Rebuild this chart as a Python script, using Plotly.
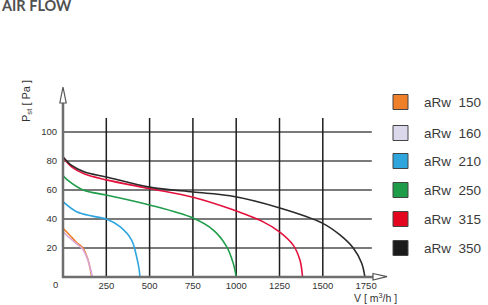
import plotly.graph_objects as go

# ---------------- data ----------------
series_names = ["aRw  150", "aRw  160", "aRw  210", "aRw  250", "aRw  315", "aRw  350"]
series_colors = ["#F07F2A", "#D9A8DA", "#2FA5DE", "#1F9C4A", "#E3103C", "#2A2A2A"]
legend_fill = ["#F07F2A", "#DCD8EC", "#2FA5DE", "#1F9C4A", "#E3061E", "#1A1A1A"]

v150 = [0, 38, 77, 115, 144, 158, 166]
p150 = [33.5, 29, 24, 20, 12, 5, 0]
v160 = [0, 38, 77, 115, 144, 160, 169]
p160 = [31, 27, 23, 19, 11.5, 5, 0]
v210 = [0, 79, 170, 250, 329, 396, 425, 440, 444]
p210 = [52, 45, 42, 40, 34.7, 25.5, 14, 5, 0]
v250 = [0, 25, 117, 250, 500, 750, 868, 945, 983, 1000]
p250 = [70, 67, 60, 56.5, 49.7, 40.7, 32.4, 21, 9.4, 0]
v315 = [0, 50, 125, 250, 500, 750, 965, 1156, 1252, 1329, 1368, 1383]
p315 = [82.5, 76, 71, 67, 61, 55, 47, 38, 31, 22, 11.7, 0]
v350 = [0, 50, 125, 250, 500, 750, 965, 1252, 1500, 1599, 1676, 1724, 1743]
p350 = [83, 77, 72.5, 69, 62, 58.6, 56, 47.6, 37, 29, 20, 9.6, 0]

x_ticks = [250, 500, 750, 1000, 1250, 1500, 1750]
y_ticks = [20, 40, 60, 80, 100]
x_grid = [250, 500, 750, 1000, 1250, 1500]
y_grid = [20, 40, 60, 80, 100]

curves_v = [v150, v160, v210, v250, v315, v350]
curves_p = [p150, p160, p210, p250, p315, p350]

# ---------------- figure ----------------
W, H = 488, 305
L, R, T, B = 63, 101, 87, 28
pw, ph = W - L - R, H - T - B
XMAX = pw * 250 / 43.3
YMAX = ph * 20 / 29.0


def px(xp):
    return (xp - L) / pw


def py(yp):
    return (H - B - yp) / ph


fig = go.Figure()
for v, p, c, n in zip(curves_v, curves_p, series_colors, series_names):
    fig.add_trace(go.Scatter(x=v, y=p, mode="lines", name=n,
                             line=dict(color=c, width=1.6, shape="spline", smoothing=1.0),
                             showlegend=False, cliponaxis=False))

shapes = []
for g in y_grid:
    shapes.append(dict(type="line", xref="x", yref="y", x0=0, x1=1783, y0=g, y1=g,
                       line=dict(color="#7A7A7A", width=2), layer="below"))
for g in x_grid:
    shapes.append(dict(type="line", xref="x", yref="y", x0=g, x1=g, y0=0, y1=109.7,
                       line=dict(color="#1E1E1E", width=1.5), layer="below"))
# axes (paper coords so they are not clipped)
shapes.append(dict(type="line", xref="paper", yref="paper", x0=px(62), x1=px(373), y0=0, y1=0,
                   line=dict(color="#6E6E6E", width=2.5)))
shapes.append(dict(type="line", xref="paper", yref="paper", x0=0, x1=0, y0=py(278), y1=py(103),
                   line=dict(color="#6E6E6E", width=2.5)))
# open arrow heads
shapes.append(dict(type="path", xref="paper", yref="paper",
                   path=f"M {px(59.8)},{py(103)} L {px(63)},{py(87)} L {px(66.2)},{py(103)} Z",
                   line=dict(color="#555555", width=1.2), fillcolor="white"))
shapes.append(dict(type="path", xref="paper", yref="paper",
                   path=f"M {px(373)},{py(273.5)} L {px(387)},{py(276.7)} L {px(373)},{py(280)} Z",
                   line=dict(color="#555555", width=1.2), fillcolor="white"))

annotations = []
leg_y = [102, 133, 161, 190, 219, 248]
for yy, n, f in zip(leg_y, series_names, legend_fill):
    shapes.append(dict(type="rect", xref="paper", yref="paper",
                       x0=px(393), x1=px(408), y0=py(yy + 7.5), y1=py(yy - 7.5),
                       line=dict(color="#444444", width=1), fillcolor=f))
    annotations.append(dict(text=n, xref="paper", yref="paper", x=px(422), y=py(yy),
                            xanchor="left", yanchor="middle", showarrow=False,
                            font=dict(size=13.5, color="#3A3A3A", family="Liberation Sans")))

annotations.append(dict(text="<b>AIR FLOW</b>", xref="paper", yref="paper", x=px(-1), y=py(5),
                        xanchor="left", yanchor="middle", showarrow=False,
                        font=dict(size=14.5, color="#505050", family="Lato")))
annotations.append(dict(text="0", xref="paper", yref="paper", x=px(55), y=py(284),
                        xanchor="center", yanchor="middle", showarrow=False,
                        font=dict(size=9.5, color="#333333", family="Liberation Sans")))
annotations.append(dict(text="P<sub>st</sub> [ Pa ]", xref="paper", yref="paper", x=px(27), y=py(101),
                        xanchor="center", yanchor="middle", showarrow=False, textangle=-90,
                        font=dict(size=11, color="#333333", family="Liberation Sans")))
annotations.append(dict(text="V [ m<sup>3</sup>/h ]", xref="paper", yref="paper", x=px(375), y=py(297),
                        xanchor="center", yanchor="middle", showarrow=False,
                        font=dict(size=10.5, color="#333333", family="Liberation Sans")))

fig.update_layout(
    width=W, height=H, margin=dict(l=L, r=R, t=T, b=B),
    paper_bgcolor="white", plot_bgcolor="white",
    shapes=shapes, annotations=annotations, showlegend=False,
    font=dict(family="Liberation Sans", size=9.5, color="#333333"),
)
fig.update_xaxes(range=[0, XMAX], tickvals=x_ticks, ticktext=[str(t) for t in x_ticks],
                 showgrid=False, zeroline=False, showline=False, ticks="", ticklabelstandoff=1,
                 tickfont=dict(size=9.5, color="#333333"))
fig.update_yaxes(range=[0, YMAX], tickvals=y_ticks, ticktext=[str(t) for t in y_ticks],
                 showgrid=False, zeroline=False, showline=False, ticks="", ticklabelstandoff=5,
                 tickfont=dict(size=9.5, color="#333333"))

fig.write_html("out.html")
